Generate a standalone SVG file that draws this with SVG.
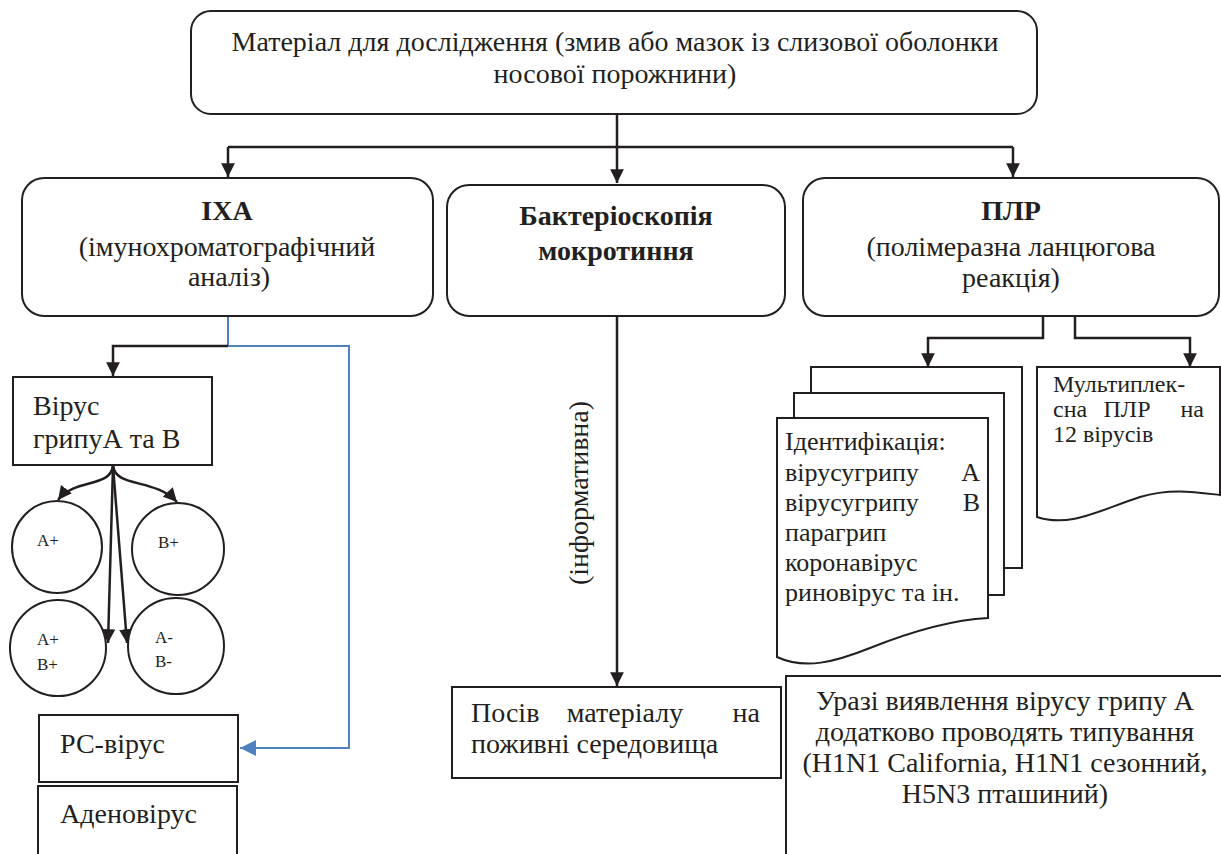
<svg xmlns="http://www.w3.org/2000/svg" width="1221" height="854" viewBox="0 0 1221 854">
<defs>
<style>
.box{fill:#fff;stroke:#231f20;stroke-width:2}
.ln{fill:none;stroke:#231f20;stroke-width:2.5}
.bl{fill:none;stroke:#4f81bd;stroke-width:2}
text{fill:#231f20;font-size:28px}
.b{font-weight:bold}
.c{text-anchor:middle}
.e{text-anchor:end}
.sm{font-size:17px}
.m{font-size:26px}
.s{font-size:24px}
</style>
<marker id="ah" viewBox="0 0 10 10" refX="10" refY="5" markerWidth="5.5" markerHeight="5.5" orient="auto" markerUnits="strokeWidth"><path d="M0,0 L10,5 L0,10 Z" fill="#231f20"/></marker>
<marker id="ab" viewBox="0 0 10 10" refX="10" refY="5" markerWidth="8" markerHeight="8" orient="auto" markerUnits="strokeWidth"><path d="M0,0 L10,5 L0,10 Z" fill="#4f81bd"/></marker>
</defs>
<rect width="1221" height="854" fill="#fff"/>
<g id="connectors">
<path class="ln" d="M617,115 V147"/>
<path class="ln" d="M228,147 H1013"/>
<path class="ln" d="M228,147 V177" marker-end="url(#ah)"/>
<path class="ln" d="M617,147 V183" marker-end="url(#ah)"/>
<path class="ln" d="M1013,147 V177" marker-end="url(#ah)"/>
<path class="bl" d="M228,316 V346 H349 V748 H240" marker-end="url(#ab)"/>
<path class="ln" d="M228,346 H113 V376" marker-end="url(#ah)"/>
<path class="ln" d="M113,466 C110,488 75,478 58,500" marker-end="url(#ah)"/>
<path class="ln" d="M113,466 C116,488 155,478 177,502" marker-end="url(#ah)"/>
<path class="ln" d="M113,466 L108,643" marker-end="url(#ah)"/>
<path class="ln" d="M113,466 L127,643" marker-end="url(#ah)"/>
<path class="ln" d="M617,316 V686" marker-end="url(#ah)"/>
<path class="ln" d="M1043,316 V338 H928 V367" marker-end="url(#ah)"/>
<path class="ln" d="M1075,316 V338 H1190 V367" marker-end="url(#ah)"/>
</g>
<g id="n-top">
<rect class="box" x="191" y="11" width="846" height="103" rx="20"/>
<text font-family="Tinos, Liberation Serif, Times New Roman, serif" class="c" x="615" y="51">Матеріал для дослідження (змив або мазок із слизової оболонки</text>
<text font-family="Tinos, Liberation Serif, Times New Roman, serif" class="c" x="615" y="83">носової порожнини)</text>
</g>
<g id="n-ixa">
<rect class="box" x="22" y="178" width="411" height="138" rx="22"/>
<text font-family="Tinos, Liberation Serif, Times New Roman, serif" class="c b" x="227" y="220">ІХА</text>
<text font-family="Tinos, Liberation Serif, Times New Roman, serif" class="c" x="227" y="256">(імунохроматографічний</text>
<text font-family="Tinos, Liberation Serif, Times New Roman, serif" class="c" x="229" y="286">аналіз)</text>
</g>
<g id="n-bact">
<rect class="box" x="447" y="185" width="338" height="131" rx="22"/>
<text font-family="Tinos, Liberation Serif, Times New Roman, serif" class="c b" x="616" y="225">Бактеріоскопія</text>
<text font-family="Tinos, Liberation Serif, Times New Roman, serif" class="c b" x="616" y="260">мокротиння</text>
</g>
<g id="n-plr">
<rect class="box" x="803" y="178" width="416" height="138" rx="22"/>
<text font-family="Tinos, Liberation Serif, Times New Roman, serif" class="c b" x="1011" y="220">ПЛР</text>
<text font-family="Tinos, Liberation Serif, Times New Roman, serif" class="c" x="1011" y="256">(полімеразна ланцюгова</text>
<text font-family="Tinos, Liberation Serif, Times New Roman, serif" class="c" x="1011" y="287">реакція)</text>
</g>
<g id="n-virus">
<rect class="box" x="13" y="377" width="199" height="88"/>
<text font-family="Tinos, Liberation Serif, Times New Roman, serif" x="33" y="415">Вірус</text>
<text font-family="Tinos, Liberation Serif, Times New Roman, serif" x="33" y="448">грипуА та В</text>
</g>
<g id="n-aplus">
<ellipse class="box" cx="57" cy="547" rx="45" ry="46"/>
<text font-family="Tinos, Liberation Serif, Times New Roman, serif" class="sm" x="37" y="546">A+</text>
</g>
<g id="n-bplus">
<ellipse class="box" cx="178" cy="549" rx="46" ry="46"/>
<text font-family="Tinos, Liberation Serif, Times New Roman, serif" class="sm" x="158" y="548">B+</text>
</g>
<g id="n-ab-plus">
<ellipse class="box" cx="58" cy="648" rx="48" ry="48"/>
<text font-family="Tinos, Liberation Serif, Times New Roman, serif" class="sm" x="37" y="645">A+</text>
<text font-family="Tinos, Liberation Serif, Times New Roman, serif" class="sm" x="37" y="670">B+</text>
</g>
<g id="n-ab-minus">
<ellipse class="box" cx="176" cy="646" rx="48" ry="48"/>
<text font-family="Tinos, Liberation Serif, Times New Roman, serif" class="sm" x="155" y="643">A-</text>
<text font-family="Tinos, Liberation Serif, Times New Roman, serif" class="sm" x="155" y="667">B-</text>
</g>
<g id="n-rs">
<rect class="box" x="39" y="715" width="199" height="67"/>
<text font-family="Tinos, Liberation Serif, Times New Roman, serif" x="60" y="753">РС-вірус</text>
</g>
<g id="n-adeno">
<rect class="box" x="38" y="786" width="199" height="80"/>
<text font-family="Tinos, Liberation Serif, Times New Roman, serif" x="60" y="823">Аденовірус</text>
</g>
<g id="n-inform">
<text font-family="Tinos, Liberation Serif, Times New Roman, serif" class="c" transform="translate(588,493) rotate(-90)" x="0" y="0">(інформативна)</text>
</g>
<g id="n-posiv">
<rect class="box" x="452" y="687" width="329" height="91"/>
<text font-family="Tinos, Liberation Serif, Times New Roman, serif" x="471" y="722">Посів</text>
<text font-family="Tinos, Liberation Serif, Times New Roman, serif" class="c" x="625" y="722">матеріалу</text>
<text font-family="Tinos, Liberation Serif, Times New Roman, serif" class="e" x="760" y="722">на</text>
<text font-family="Tinos, Liberation Serif, Times New Roman, serif" x="471" y="753">поживні середовища</text>
</g>
<g id="n-urazi">
<rect class="box" x="786" y="676" width="440" height="190"/>
<text font-family="Tinos, Liberation Serif, Times New Roman, serif" class="c" x="1005" y="710">Уразі виявлення вірусу грипу А</text>
<text font-family="Tinos, Liberation Serif, Times New Roman, serif" class="c" x="1005" y="741">додатково проводять типування</text>
<text font-family="Tinos, Liberation Serif, Times New Roman, serif" class="c" x="1005" y="772">(H1N1 California, H1N1 сезонний,</text>
<text font-family="Tinos, Liberation Serif, Times New Roman, serif" class="c" x="1005" y="803">H5N3 пташиний)</text>
</g>
<g id="n-ident">
<rect class="box" x="811" y="367" width="211" height="201"/>
<rect class="box" x="794" y="393" width="210" height="202"/>
<path class="box" d="M777,418 H988 V618 C950,620 910,632 870,648 C835,662 805,670 777,657 Z"/>
<text font-family="Tinos, Liberation Serif, Times New Roman, serif" class="m" x="785" y="450">Ідентифікація:</text>
<text font-family="Tinos, Liberation Serif, Times New Roman, serif" class="m" x="785" y="481">вірусугрипу</text>
<text font-family="Tinos, Liberation Serif, Times New Roman, serif" class="m e" x="980" y="481">A</text>
<text font-family="Tinos, Liberation Serif, Times New Roman, serif" class="m" x="785" y="511">вірусугрипу</text>
<text font-family="Tinos, Liberation Serif, Times New Roman, serif" class="m e" x="980" y="511">B</text>
<text font-family="Tinos, Liberation Serif, Times New Roman, serif" class="m" x="785" y="541">парагрип</text>
<text font-family="Tinos, Liberation Serif, Times New Roman, serif" class="m" x="785" y="571">коронавірус</text>
<text font-family="Tinos, Liberation Serif, Times New Roman, serif" class="m" x="785" y="601">риновірус та ін.</text>
</g>
<g id="n-multi">
<path class="box" d="M1037,367 H1220 V495 C1195,492 1170,488 1140,497 C1100,510 1070,528 1037,517 Z"/>
<text font-family="Tinos, Liberation Serif, Times New Roman, serif" class="s" x="1053" y="392">Мультиплек-</text>
<text font-family="Tinos, Liberation Serif, Times New Roman, serif" class="s" x="1053" y="417">сна</text>
<text font-family="Tinos, Liberation Serif, Times New Roman, serif" class="s c" x="1127" y="417">ПЛР</text>
<text font-family="Tinos, Liberation Serif, Times New Roman, serif" class="s e" x="1204" y="417">на</text>
<text font-family="Tinos, Liberation Serif, Times New Roman, serif" class="s" x="1053" y="442">12 вірусів</text>
</g>
</svg>
